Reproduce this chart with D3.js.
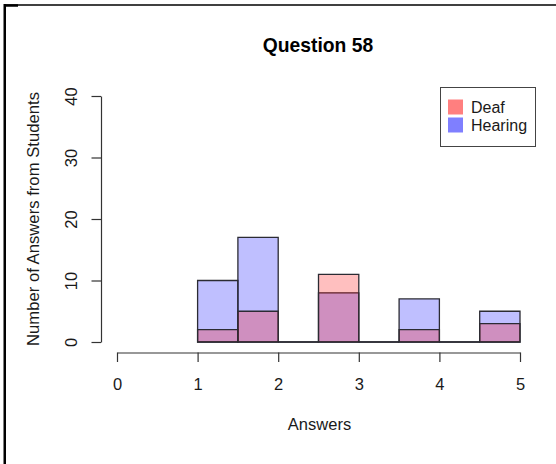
<!DOCTYPE html>
<html><head><meta charset="utf-8">
<script src="https://cdn.jsdelivr.net/npm/d3@7"></script>
<style>
html,body{margin:0;padding:0;background:#fff;}
svg{display:block;font-family:"Liberation Sans",Arial,Helvetica,sans-serif;}
</style></head>
<body>
<script>
const binStarts = [1, 1.5, 2, 2.5, 3, 3.5, 4, 4.5];
const binWidth = 0.5;
const hearing = [10, 17, 0, 8, 0, 7, 0, 5];
const deaf = [2, 5, 0, 11, 0, 2, 0, 3];
const xTicks = [0, 1, 2, 3, 4, 5];
const yTicks = [0, 10, 20, 30, 40];
const seriesNames = ["Deaf", "Hearing"];
const title = "Question 58";
const xLabel = "Answers";
const yLabel = "Number of Answers from Students";

const W = 556, H = 464;
const svg = d3.select("body").append("svg").attr("width", W).attr("height", H);

// outer frame (partial)
svg.append("line").attr("x1", 4).attr("x2", 556).attr("y1", 5).attr("y2", 5).attr("stroke", "#000").attr("stroke-width", 1.5);
svg.append("line").attr("x1", 4.75).attr("x2", 4.75).attr("y1", 4).attr("y2", 464).attr("stroke", "#000").attr("stroke-width", 2.5);
svg.append("line").attr("x1", 4).attr("x2", 18).attr("y1", 5.5).attr("y2", 5.5).attr("stroke", "#000").attr("stroke-width", 2.5);

const x = d3.scaleLinear().domain([0, 5]).range([117, 520]);
const y = d3.scaleLinear().domain([0, 40]).range([342, 96]);

const textCol = "#1a1a1a";
const axisCol = "#333";

function barPath(x0, v) {
  const xl = x(x0), xr = x(x0 + binWidth), yb = y(0), yt = y(v);
  return `M${xl},${yb}L${xl},${yt}L${xr},${yt}L${xr},${yb}Z`;
}

const series = [
  {name: "Hearing", values: hearing, fill: "rgba(0,0,255,0.25)"},
  {name: "Deaf", values: deaf, fill: "rgba(255,0,0,0.25)"}
];
series.forEach(s => {
  svg.append("g").selectAll("path").data(binStarts).join("path")
    .attr("d", (b, i) => barPath(b, s.values[i]))
    .attr("fill", s.fill)
    .attr("stroke", "#2b2b33")
    .attr("stroke-width", 1.3);
});

// x axis
const gx = svg.append("g").attr("transform", "translate(0,352.5)")
  .call(d3.axisBottom(x).tickValues(xTicks).tickFormat(d3.format("d")).tickSize(9.5).tickSizeOuter(0).tickPadding(16));
gx.select(".domain").attr("stroke", axisCol).attr("stroke-width", 1.2);
gx.selectAll(".tick line").attr("stroke", axisCol).attr("stroke-width", 1.2);
gx.selectAll("text").attr("font-size", 16.5).attr("fill", textCol).attr("font-family", null);

// y axis
const gy = svg.append("g").attr("transform", "translate(101,0)")
  .call(d3.axisLeft(y).tickValues(yTicks).tickFormat(d3.format("d")).tickSize(9.5).tickSizeOuter(0));
gy.select(".domain").attr("stroke", axisCol).attr("stroke-width", 1.2);
gy.selectAll(".tick line").attr("stroke", axisCol).attr("stroke-width", 1.2);
gy.selectAll("text").attr("font-size", 16.5).attr("fill", textCol).attr("font-family", null)
  .attr("x", null).attr("dy", "0.36em").attr("text-anchor", "middle")
  .attr("transform", "translate(-30,0) rotate(-90)");

// titles
svg.append("text").attr("x", 318).attr("y", 45.5).attr("dy", "0.36em").attr("text-anchor", "middle")
  .attr("font-size", 19.3).attr("font-weight", "bold").attr("fill", "#000").text(title);
svg.append("text").attr("x", 319.5).attr("y", 424.5).attr("dy", "0.36em").attr("text-anchor", "middle")
  .attr("font-size", 16.5).attr("fill", textCol).text(xLabel);
svg.append("text").attr("transform", "translate(33,219) rotate(-90)").attr("dy", "0.36em").attr("text-anchor", "middle")
  .attr("font-size", 16.7).attr("fill", textCol).text(yLabel);

// legend
const lg = svg.append("g");
lg.append("rect").attr("x", 440.5).attr("y", 87.5).attr("width", 95).attr("height", 59)
  .attr("fill", "#fff").attr("stroke", "#444").attr("stroke-width", 1);
const legendFills = ["rgba(255,0,0,0.5)", "rgba(0,0,255,0.5)"];
seriesNames.forEach((n, i) => {
  lg.append("rect").attr("x", 448).attr("y", 99.5 + i * 18).attr("width", 15).attr("height", 15)
    .attr("fill", legendFills[i]);
  lg.append("text").attr("x", 471).attr("y", 107 + i * 18).attr("dy", "0.36em")
    .attr("font-size", 16).attr("fill", textCol).text(n);
});
</script>
</body></html>
